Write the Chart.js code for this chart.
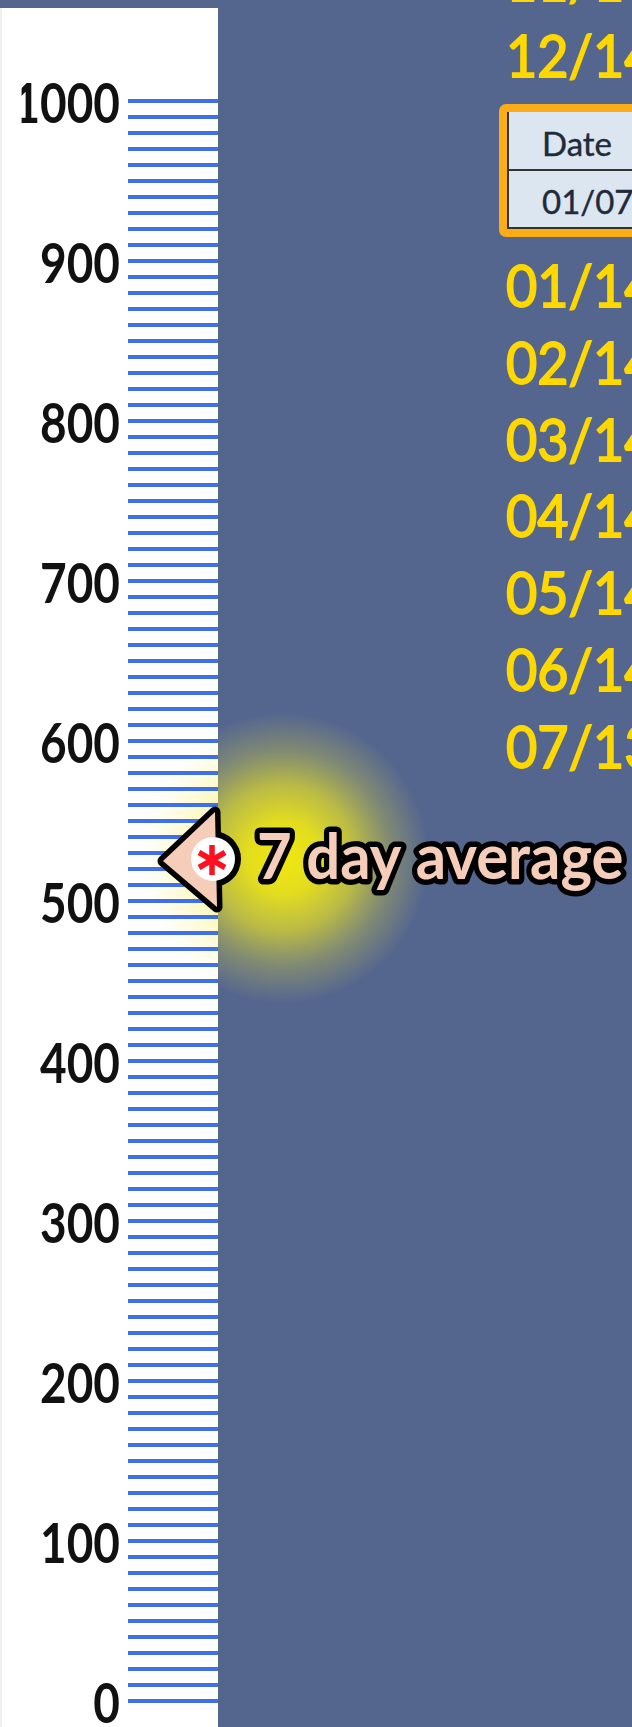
<!DOCTYPE html>
<html>
<head>
<meta charset="utf-8">
<title>7 day average</title>
<script src="https://cdn.jsdelivr.net/npm/chart.js@4"></script>
<style>
    html, body { margin: 0; padding: 0; background: #55668e; overflow: hidden; }
    #page { position: relative; width: 632px; height: 1727px; overflow: hidden; filter: blur(0.7px); }
    #myChart { position: absolute; left: 0; top: 0; }
    .date { position: absolute; left: 506px; font: 400 58px Lato; line-height: 0; color: #ffd800;
        transform: scaleX(0.93); transform-origin: left center; white-space: nowrap; -webkit-text-stroke: 1.8px #ffd800; }
    #dateBox { position: absolute; left: 499px; top: 104px; width: 160px; height: 133px; box-sizing: border-box;
        border: 8px solid #fbad18; border-radius: 7px; background: #dce6f1; }
    #dateBox div { position: absolute; left: 0; width: 100%; box-sizing: border-box; border-left: 2px solid #333;
        font: 400 33px Lato; color: #1f2a3a; padding-left: 33px; white-space: nowrap; -webkit-text-stroke: 0.4px #1f2a3a; }
</style>
</head>
<body>
<div id="page">
    <canvas id="myChart" width="632" height="1727"></canvas>
    <div id="dateBox">
        <div id="dateHead" style="top: 0; height: 59px; line-height: 62px; border-bottom: 2px solid #333;"></div>
        <div id="dateCell" style="top: 59px; height: 58px; line-height: 60px; border-bottom: 2px solid #333;"></div>
    </div>
</div>
<script>
var tickLabels = ["0", "100", "200", "300", "400", "500", "600", "700", "800", "900", "1000"];
var yMin = 0;
var yMax = 1000;
var gridStep = 10;
var averageX = [1];
var averageY = [525];
var averageLabel = "7 day average";
var monthDates = ["11/14", "12/14", "01/14", "02/14", "03/14", "04/14", "05/14", "06/14", "07/13"];
var monthBaselines = [1, 77, 307, 384, 461, 537, 614, 691, 768];
var tableHead = "Date";
var tableCell = "01/07";

monthDates.forEach(function (d, i) {
    var el = document.createElement("div");
    el.className = "date";
    el.textContent = d;
    el.style.top = monthBaselines[i] - 22 + "px";
    document.getElementById("page").appendChild(el);
});
document.getElementById("dateHead").textContent = tableHead;
document.getElementById("dateCell").textContent = tableCell;

// arrow marker with the red asterisk, used as the point style
function makeMarker() {
    var c = document.createElement("canvas");
    c.width = 130;
    c.height = 130;
    var g = c.getContext("2d");
    g.translate(65, 65);
    function arrow() {
        g.beginPath();
        g.moveTo(-55, 0);
        g.lineTo(-3, -49);
        g.lineTo(-1, 46);
        g.closePath();
    }
    g.lineJoin = "round";
    g.lineWidth = 11;
    g.strokeStyle = "#000";
    arrow();
    g.stroke();
    g.fillStyle = "#000";
    g.beginPath();
    g.arc(-5, -2, 28, 0, Math.PI * 2);
    g.fill();
    g.fillStyle = "#f5cdb9";
    arrow();
    g.fill();
    g.fillStyle = "#fff";
    g.beginPath();
    g.arc(-5, -2, 22, 0, Math.PI * 2);
    g.fill();
    g.strokeStyle = "#ff1020";
    g.lineWidth = 5.5;
    g.lineCap = "butt";
    for (var i = 0; i < 3; i++) {
        var a = Math.PI / 2 + (i * Math.PI) / 3;
        g.beginPath();
        g.moveTo(-6 - Math.cos(a) * 15, -1 - Math.sin(a) * 15);
        g.lineTo(-6 + Math.cos(a) * 15, -1 + Math.sin(a) * 15);
        g.stroke();
    }
    return c;
}

var backdrop = {
    id: "backdrop",
    beforeDraw: function (chart) {
        var ctx = chart.ctx;
        var area = chart.chartArea;
        var p = chart.getDatasetMeta(0).data[0];
        var cx = p.x + 65;
        var cy = p.y - 3;
        ctx.save();
        ctx.fillStyle = "#55668e";
        ctx.fillRect(0, 0, chart.width, chart.height);
        ctx.fillStyle = "#f0f0f0";
        ctx.fillRect(0, 8, 2, chart.height);
        ctx.fillStyle = "#fff";
        ctx.fillRect(2, 8, area.right - 2, chart.height);

        var glow = ctx.createRadialGradient(cx, cy, 0, cx, cy, 145);
        glow.addColorStop(0, "rgba(240,232,16,1)");
        glow.addColorStop(0.25, "rgba(236,228,24,0.94)");
        glow.addColorStop(0.5, "rgba(226,220,40,0.72)");
        glow.addColorStop(0.75, "rgba(215,210,60,0.32)");
        glow.addColorStop(1, "rgba(215,210,70,0)");
        ctx.fillStyle = glow;
        ctx.fillRect(area.right, cy - 148, 300, 296);

        var pale = ctx.createRadialGradient(cx, cy, 40, cx, cy, 140);
        pale.addColorStop(0, "rgba(250,240,110,0.65)");
        pale.addColorStop(0.5, "rgba(250,240,110,0.42)");
        pale.addColorStop(1, "rgba(250,240,110,0)");
        ctx.fillStyle = pale;
        ctx.fillRect(area.right - 100, cy - 148, 100, 296);
        ctx.restore();
    },
    afterDatasetsDraw: function (chart) {
        var ctx = chart.ctx;
        var p = chart.getDatasetMeta(0).data[0];
        ctx.save();
        ctx.translate(p.x + 39, p.y + 18);
        ctx.scale(0.95, 1);
        ctx.font = "700 63px Lato";
        ctx.textBaseline = "alphabetic";
        ctx.lineJoin = "round";
        ctx.lineWidth = 11;
        ctx.strokeStyle = "#000";
        ctx.strokeText(averageLabel, 0, 0);
        ctx.fillStyle = "#f5cdb9";
        ctx.fillText(averageLabel, 0, 0);
        ctx.restore();
    },
};

// the tick digits are much narrower than any installed face, so squeeze them
var narrowTicks = {
    id: "narrowTicks",
    afterLayout: function (chart) {
        var y = chart.scales.y;
        if (y.squeezed) return;
        y.squeezed = true;
        var drawLabels = y.drawLabels;
        y.drawLabels = function (area) {
            var ctx = chart.ctx;
            ctx.save();
            ctx.translate(120, 4);
            ctx.scale(0.82, 1);
            ctx.translate(-120, 0);
            drawLabels.call(y, area);
            ctx.restore();
        };
    },
};

var ctx = document.getElementById("myChart").getContext("2d");
var myChart = new Chart(ctx, {
    type: "scatter",
    data: {
        datasets: [
            {
                label: averageLabel,
                data: averageX.map(function (x, i) {
                    return { x: x, y: averageY[i] };
                }),
                pointStyle: makeMarker(),
                pointRadius: 10,
                pointHoverRadius: 10,
                clip: false,
            },
        ],
    },
    plugins: [backdrop, narrowTicks],
    options: {
        responsive: false,
        animation: false,
        layout: {
            padding: { left: 0, right: 414, top: 101, bottom: 26 },
        },
        plugins: {
            legend: { display: false },
            title: { display: false },
            tooltip: { enabled: false },
        },
        scales: {
            x: {
                display: false,
                min: 0,
                max: 1,
            },
            y: {
                min: yMin,
                max: yMax,
                afterFit: function (scale) {
                    scale.width = 128;
                    scale.paddingTop = 0;
                    scale.paddingBottom = 0;
                },
                border: { display: false },
                grid: {
                    color: "#3f70ea",
                    lineWidth: 4,
                    drawTicks: false,
                },
                ticks: {
                    stepSize: gridStep,
                    autoSkip: false,
                    padding: 8,
                    color: "#111",
                    font: { family: "Lato", size: 56, weight: "700", lineHeight: 1 },
                    callback: function (value) {
                        return tickLabels.indexOf(String(value)) >= 0 ? String(value) : "";
                    },
                },
            },
        },
    },
});
</script>
</body>
</html>
